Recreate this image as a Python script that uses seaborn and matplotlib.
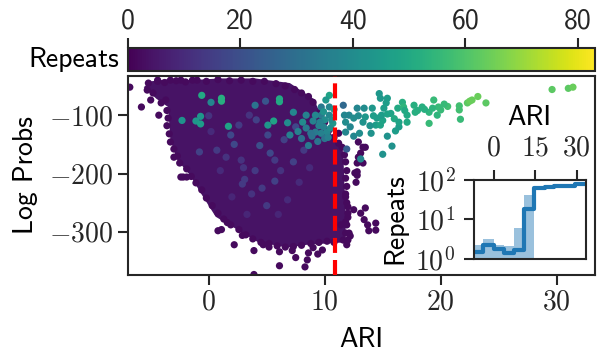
#!/usr/bin/env python3
import numpy as np
import pandas as pd
import matplotlib
matplotlib.use("Agg")
import matplotlib.pyplot as plt
import seaborn as sns

# outline of the dense cloud (ARI, log prob)
cloud_ari = [-5.6, -5, -3.3, -1.6, 1, 4, 7, 7.9, 9.2, 9.3, 10.1, 10.9, 11.6, 11.7, 11.8, 11.8,
             10.8, 8.5, 6.8, 4.2, 2.2, 0.6, -0.7, -1.6, -2.7, -3.3, -3.5, -4.5]
cloud_logp = [-52, -42, -38, -40, -37, -37, -45, -57, -74, -83, -117, -143, -163, -220, -254, -318,
              -319, -322, -327, -317, -293, -274, -233, -203, -177, -143, -86, -72]

# stray dark dots around the cloud
edge_ari = [-6.8, -5.8, -5, -4.3, -4.1, -3.7, -5.3, -4.8, -4.4, -3.3, -2.4, -1.4, -3, -2.2, -2.4, -1.9,
            0.8, 1.1, 2.2, 3.9, 5.2, 6.1, 6.1, 7.5, 8.3, 8.5, 8.6, 9.8, 9, 3.9, 1.6, 2.9, 4.7, 7.2, 9.4,
            11.6, 12, 12.1, 11.4, 11.8, 12, 12.5, 13.5, 13.1, 13.4, 13.7, 14.4, 14.4, 13.8, 12, 11.8,
            12.8, 12.7, 13.3, 13.5, 12.9, 13.1, 12.9, 13.3, 12.8, 12.8, 12.6, 11.2, 12.2, 11.9,
            # top edge
            -5.2, -4.4, -3.8, -2.8, -2, -1, -0.2, 0.8, 1.8, 2.8, 3.8, 4.8, 5.8, 6.6, 7.4, 8,
            # left edge
            -3.6, -3.5, -3.6, -3.4, -3.3, -3, -2.7, -2.5, -1.9, -1.5, -1.1, -0.6, -0.2, 0.3, 0.8, 1.3, 1.9, 2.6,
            3.2, 3.8, 4.5, 5.2, 5.9, 6.6, 7.3, 8, 8.8, 9.5, 10.2, 10.8,
            # right edge
            11.8, 11.9, 12, 11.9, 11.8, 11.9, 11.8, 11.9, 11.8, 11.7, 11.5, 11.2, 10.8, 10.4, 10, 9.6, 9, 8.6]
edge_logp = [-52, -86, -74, -100, -79, -74, -57, -62, -42, -40, -40, -40, -172, -206, -206, -206,
             -298, -296, -322, -332, -326, -334, -358, -344, -360, -348, -336, -331, -327, -373, -284, -306, -322, -332, -338,
             -314, -314, -302, -288, -240, -257, -262, -259, -268, -279, -288, -285, -297, -298, -268, -283,
             -203, -215, -155, -155, -146, -165, -172, -182, -182, -197, -199, -131, -307, -322,
             -45, -40, -44, -41, -43, -40, -42, -39, -41, -40, -42, -42, -46, -50, -56, -62,
             -92, -105, -118, -132, -146, -158, -170, -182, -192, -205, -216, -228, -242, -255, -268, -278, -288, -296,
             -305, -312, -318, -320, -324, -326, -325, -323, -320, -318, -316, -318,
             -302, -288, -275, -250, -235, -222, -208, -195, -180, -168, -155, -148, -138, -125, -112, -95, -78, -68]

# lighter dots inside the cloud
inner_ari = [0, 3.5, 4.1, 2.6, 1.9, 5.1, -0.8, 0.7, 2.2, 4.4, 6.5, 2.8, 5.7, 7.3, 1.5,
             2.9, 4.6, 5.7, 3.7, 3.1, 6.2, 5, 7.8, 8.2, 1, 3, 6.8, 0.2, 8.7, 5.3, 7.5, 2, 4, 6, 3.3]
inner_logp = [-101, -100, -108, -117, -134, -134, -163, -160, -150, -152, -142, -177, -177, -180, -172,
              -218, -225, -213, -235, -210, -195, -255, -215, -160, -195, -190, -245, -128, -190, -165, -120, -240, -195, -270, -270]
inner_rep = [12, 12, 16, 14, 18, 18, 16, 14, 18, 20, 16, 12, 14, 16, 12,
             14, 14, 16, 12, 14, 12, 14, 10, 14, 10, 12, 10, 10, 10, 18, 18, 9, 14, 9, 9]

# coloured dots, from the cloud top out to the right
high_ari = [-0.6, 0.2, 1.1, 1.1, 4, 4.9, 6.1, 6.1, -2.3, -0.7, -1.1, -0.7, 1.7, 5.1, 5.6, 6.8, 7.3, 7, 8.1, 8.4,
            10.4, 10.1, 9.7, 10.4, 9.7, 10.4, 10.7, 9.9, 9.2, 8.8, 9.7, 10.2, 8, 8.6, 9.4, 10.6, 7.7,
            14.7, 14.8, 15.4, 15.3, 15.1, 14.1, 13.4, 12.8, 11.6, 12.1, 11.7, 12.5, 11.8, 12.2, 11.8, 12.5, 13,
            13.3, 13.5, 14.5, 15, 14.4, 14.8, 14, 15.4, 15.8, 15, 16.1, 16.4, 15.7, 16.3, 16.7, 16.8, 17.1, 17.1,
            17.7, 17.8, 18.4, 19, 19, 19.7, 19.4, 19.8, 20.6, 20, 21.6, 21.7, 21.6, 22.3, 22.7, 23.2, 22.5, 23.9,
            29.6, 31, 31.4, 11.9, 13.1, 14.2, 14.9, 16, 16.9, 18, 18.6, 19.3, 20.3, 16.4, 15.4, 12.9, 13.9,
            9, 9.5, 10, 10.5, 9.2, 10, 8.4, 8.9, 9.6, 10.3, 10.8, 9.9]
high_logp = [-66, -78, -71, -76, -83, -76, -72, -77, -109, -102, -110, -115, -119, -117, -110, -113, -95, -134, -112, -100,
             -66, -74, -86, -86, -100, -100, -114, -120, -129, -131, -131, -129, -140, -152, -145, -108, -128,
             -63, -71, -71, -79, -88, -88, -88, -88, -83, -100, -100, -105, -112, -120, -129, -136, -131,
             -112, -103, -105, -109, -117, -117, -131, -136, -153, -167, -127, -120, -97, -88, -78, -86, -100, -112,
             -83, -95, -86, -95, -114, -100, -74, -86, -85, -91, -91, -107, -84, -79, -74, -68, -76, -79,
             -56, -54, -52, -158, -175, -101, -100, -106, -92, -92, -90, -88, -81, -112, -98, -101, -118,
             -110, -118, -108, -122, -100, -140, -122, -136, -112, -138, -90, -94]
high_rep = [50, 38, 52, 52, 32, 22, 50, 50, 42, 44, 44, 46, 48, 44, 48, 40, 38, 36, 40, 36,
            48, 44, 34, 38, 34, 38, 44, 36, 34, 32, 36, 38, 30, 34, 32, 40, 36,
            44, 44, 46, 46, 46, 44, 40, 38, 28, 38, 38, 40, 40, 38, 38, 38, 40,
            42, 44, 46, 48, 46, 48, 42, 42, 42, 42, 46, 46, 48, 50, 52, 54, 50, 50,
            52, 52, 52, 54, 56, 54, 56, 56, 58, 56, 58, 56, 58, 62, 64, 64, 64, 62,
            62, 62, 64, 24, 38, 46, 46, 50, 50, 52, 52, 54, 56, 48, 48, 40, 42,
            36, 36, 40, 40, 38, 32, 34, 32, 36, 36, 44, 42]

threshold_ari = 10.9
ari_ticks = [0, 10, 20, 30]
logp_ticks = [-100, -200, -300]
bar_ticks = [0, 20, 40, 60, 80]
repeats_max = 83

# inset: repeats per ARI bin
bin_edges = [-7.3, -3.7, 0.1, 3.7, 7.3, 10.9, 14.6]
bin_heights = [2.17, 3.07, 2.2, 2.1, 5.8, 39.6]
step_ari = [-7.3, -3.7, 0.1, 3.7, 7.3, 10.9, 14.6, 18.5, 22, 25.6, 29.5, 33.2]
step_repeats = [1.47, 2.2, 1.75, 1.36, 1.6, 18, 60, 64, 70, 67, 78, 78]
inset_ticks = [0, 15, 30]

sns.set_style("ticks")
plt.rcParams.update({
    'font.family': ['cmss10', 'DejaVu Sans'],
    'mathtext.fontset': 'cm',
    'axes.unicode_minus': False,
    'axes.linewidth': 1.5,
    'xtick.major.width': 1.5,
    'ytick.major.width': 1.5,
    'xtick.major.size': 7,
    'ytick.major.size': 7,
    'font.size': 20,
    'text.color': 'black',
    'axes.labelcolor': 'black',
})

W, H = 597, 351
fig = plt.figure(figsize=(W / 100, H / 100), dpi=100)


def px_axes(x0, y0, x1, y1):
    return fig.add_axes([x0 / W, 1 - y1 / H, (x1 - x0) / W, (y1 - y0) / H])


ax = px_axes(127.5, 75.5, 595, 274.5)
cax = px_axes(127.5, 47.5, 595, 70.5)
inset = px_axes(473.5, 179.5, 586, 258.5)

norm = plt.Normalize(0, repeats_max)
cmap = sns.color_palette("viridis", as_cmap=True)

# main scatter
ax.fill(cloud_ari, cloud_logp, color=cmap(norm(4)), lw=0, zorder=1)
edge_df = pd.DataFrame({'ari': edge_ari, 'logp': edge_logp})
edge_df['repeats'] = 2
inner_df = pd.DataFrame({'ari': inner_ari, 'logp': inner_logp, 'repeats': inner_rep})
high_df = pd.DataFrame({'ari': high_ari, 'logp': high_logp, 'repeats': high_rep})
df = pd.concat([edge_df, inner_df, high_df], ignore_index=True)
sns.scatterplot(data=df, x='ari', y='logp', hue='repeats', palette='viridis', hue_norm=norm,
                s=27, linewidth=0, legend=False, ax=ax, zorder=2)
ax.axvline(threshold_ari, color='red', lw=3, ls=(0, (3.6, 1.7)), zorder=3)
ax.set_xlim(-7, 33.3)
ax.set_ylim(-373, -32)
ax.set_xticks(ari_ticks, [f"${v}$" for v in ari_ticks])
ax.set_yticks(logp_ticks, [f"$-{abs(v)}$" for v in logp_ticks])
ax.set_xlabel("ARI", fontsize=20, labelpad=9)
ax.set_ylabel("Log Probs", fontsize=20, labelpad=8)
ax.tick_params(labelsize=20)

# colour bar on top
sm = plt.cm.ScalarMappable(norm=norm, cmap=cmap)
cb = fig.colorbar(sm, cax=cax, orientation='horizontal', ticklocation='top')
cb.set_ticks(bar_ticks, labels=[str(v) for v in bar_ticks])
cb.ax.tick_params(labelsize=20, width=1.5, length=7, pad=3)
cb.outline.set_linewidth(1.5)
cax.set_ylabel("Repeats", rotation=0, ha='right', va='center', fontsize=20, labelpad=6)

# inset histogram
inset.set_yscale('log')
sns.histplot(x=bin_edges[:-1], weights=bin_heights, bins=bin_edges, color='#1f77b4', alpha=0.45,
             linewidth=0, ax=inset)
sns.lineplot(x=step_ari, y=step_repeats, drawstyle='steps-post', color='#1f77b4', lw=3,
             errorbar=None, sort=False, ax=inset)
inset.set_xlim(-7.3, 33.4)
inset.set_ylim(1, 100)
inset.set_xticks(inset_ticks, [f"${v}$" for v in inset_ticks])
inset.set_yticks([1, 10, 100], ["$10^{0}$", "$10^{1}$", "$10^{2}$"])
inset.minorticks_off()
inset.xaxis.tick_top()
inset.xaxis.set_label_position('top')
inset.tick_params(labelsize=20)
inset.tick_params(axis='x', pad=7)
inset.tick_params(axis='y', pad=6)
inset.set_xlabel("ARI", fontsize=20, labelpad=7)
inset.set_ylabel("Repeats", fontsize=20, labelpad=6)

fig.savefig("out.png", dpi=100)
